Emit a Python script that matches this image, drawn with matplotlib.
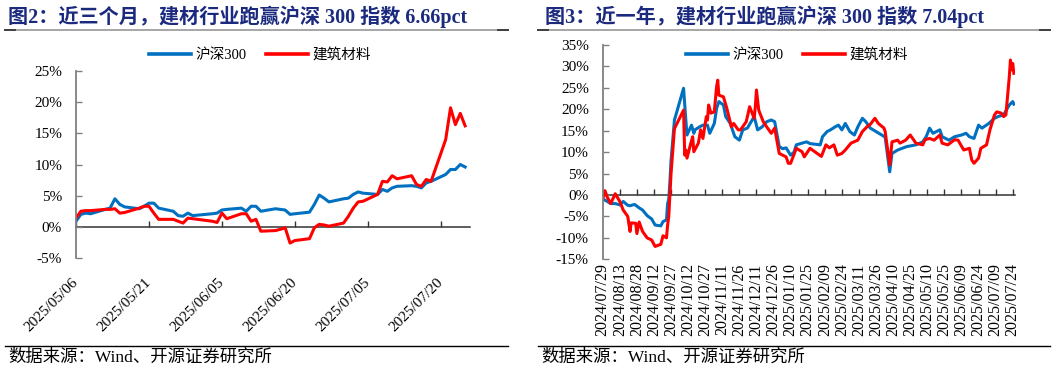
import matplotlib
matplotlib.use('Agg')
import matplotlib.pyplot as plt
import pandas as pd
from matplotlib.lines import Line2D

FONTS = ['Liberation Serif', 'Noto Sans CJK SC']
plt.rcParams['font.family'] = FONTS
plt.rcParams['axes.unicode_minus'] = False

BLUE = '#0070C0'
RED = '#FF0000'
NAVY = '#1b2a7e'
GREY = '#808080'

# ---------------- left chart: last three months ----------------
left_dates = ['2025-05-06', '2025-05-07', '2025-05-08', '2025-05-09', '2025-05-12', '2025-05-13',
              '2025-05-14', '2025-05-15', '2025-05-16', '2025-05-19', '2025-05-20', '2025-05-21',
              '2025-05-22', '2025-05-23', '2025-05-26', '2025-05-27', '2025-05-28', '2025-05-29',
              '2025-05-30', '2025-06-03', '2025-06-04', '2025-06-05', '2025-06-06', '2025-06-09',
              '2025-06-10', '2025-06-11', '2025-06-12', '2025-06-13', '2025-06-16', '2025-06-17',
              '2025-06-18', '2025-06-19', '2025-06-20', '2025-06-23', '2025-06-24', '2025-06-25',
              '2025-06-26', '2025-06-27', '2025-06-30', '2025-07-01', '2025-07-02', '2025-07-03',
              '2025-07-04', '2025-07-07', '2025-07-08', '2025-07-09', '2025-07-10', '2025-07-11',
              '2025-07-14', '2025-07-15', '2025-07-16', '2025-07-17', '2025-07-18', '2025-07-21',
              '2025-07-22', '2025-07-23', '2025-07-24', '2025-07-25']
left_hs300 = [0.9, 2.0, 2.2, 2.1, 2.8, 3.0, 4.5, 3.6, 3.2, 2.9, 3.3, 3.8, 3.8, 3.0, 2.5, 1.8,
              1.7, 2.2, 1.8, 2.1, 2.2, 2.7, 2.8, 3.0, 2.5, 3.3, 3.3, 2.5, 2.9, 2.8, 2.7, 2.0,
              2.1, 2.35, 3.6, 5.1, 4.6, 4.0, 4.5, 4.6, 5.2, 5.6, 5.4, 5.2, 6.0, 5.7, 6.25, 6.5,
              6.6, 6.5, 6.25, 7.05, 7.3, 8.4, 9.2, 9.2, 10.0, 9.6]
left_jiancai = [1.4, 2.5, 2.6, 2.6, 2.8, 2.8, 2.9, 2.2, 2.3, 3.0, 3.3, 3.3, 2.2, 1.2, 1.2, 0.9,
                0.6, 1.4, 1.3, 0.9, 0.7, 2.2, 1.3, 2.1, 2.1, 0.9, 1.2, -0.7, -0.6, -0.4, -0.15,
                -2.6, -2.2, -1.9, -0.15, 0.4, 0.3, 0.1, 0.6, 1.7, 3.0, 4.0, 4.1, 5.2, 7.3, 7.2,
                8.2, 7.7, 8.2, 6.8, 6.5, 7.6, 7.3, 14.0, 19.1, 16.4, 18.2, 16.2]

# ---------------- right chart: last year ----------------
right_hs_dates = ['2024-07-29', '2024-07-31', '2024-08-02', '2024-08-05', '2024-08-09', '2024-08-13',
                  '2024-08-16', '2024-08-20', '2024-08-22', '2024-08-26', '2024-08-28', '2024-08-30',
                  '2024-09-02', '2024-09-06', '2024-09-10', '2024-09-13', '2024-09-18', '2024-09-20',
                  '2024-09-23', '2024-09-24', '2024-09-25', '2024-09-26', '2024-09-27', '2024-09-30',
                  '2024-10-08', '2024-10-10', '2024-10-11', '2024-10-15', '2024-10-17', '2024-10-18',
                  '2024-10-22', '2024-10-25', '2024-10-29', '2024-10-31', '2024-11-04', '2024-11-06',
                  '2024-11-08', '2024-11-12', '2024-11-14', '2024-11-18', '2024-11-22', '2024-11-26',
                  '2024-11-29', '2024-12-03', '2024-12-09', '2024-12-12', '2024-12-16', '2024-12-20',
                  '2024-12-24', '2024-12-27', '2024-12-31', '2025-01-03', '2025-01-06', '2025-01-10',
                  '2025-01-13', '2025-01-15', '2025-01-20', '2025-01-24', '2025-01-27', '2025-02-05',
                  '2025-02-07', '2025-02-11', '2025-02-14', '2025-02-18', '2025-02-21', '2025-02-24',
                  '2025-02-27', '2025-03-03', '2025-03-07', '2025-03-10', '2025-03-14', '2025-03-17',
                  '2025-03-21', '2025-03-26', '2025-03-31', '2025-04-03', '2025-04-07', '2025-04-09',
                  '2025-04-14', '2025-04-22', '2025-04-30', '2025-05-06', '2025-05-09', '2025-05-12',
                  '2025-05-15', '2025-05-21', '2025-05-23', '2025-05-29', '2025-06-03', '2025-06-09',
                  '2025-06-13', '2025-06-16', '2025-06-20', '2025-06-24', '2025-06-27', '2025-07-03',
                  '2025-07-08', '2025-07-11', '2025-07-16', '2025-07-21', '2025-07-24', '2025-07-25']
right_hs300 = [-1.0, -1.2, -1.5, -2.0, -2.0, -2.3, -1.5, -2.4, -2.5, -2.2, -2.6, -3.0,
               -3.5, -4.8, -5.6, -7.0, -7.2, -6.2, -5.8, -2.0, -1.0, 3.0, 8.0, 17.5,
               24.9, 17.5, 14.0, 16.3, 14.4, 15.2, 15.9, 16.3, 16.3, 14.4, 16.7, 20.2,
               21.8, 21.0, 18.3, 16.7, 13.6, 12.8, 15.2, 15.6, 18.3, 15.2, 15.9, 17.1,
               17.5, 17.1, 11.3, 10.8, 11.0, 9.3, 10.0, 11.7, 12.1, 12.4, 12.0, 11.7,
               13.6, 14.8, 15.2, 15.9, 16.3, 15.2, 16.7, 14.8, 14.0, 15.9, 17.9, 17.1,
               15.6, 14.8, 14.0, 13.5, 5.4, 9.7, 10.5, 11.3, 11.7, 12.4, 13.6, 15.6,
               14.4, 15.2, 13.6, 12.8, 13.6, 14.0, 14.4, 13.6, 13.2, 16.3, 15.6, 16.7,
               17.9, 18.3, 18.7, 21.0, 21.8, 21.2]
right_jc_dates = ['2024-07-29', '2024-07-31', '2024-08-02', '2024-08-05', '2024-08-09', '2024-08-13',
                  '2024-08-16', '2024-08-20', '2024-08-22', '2024-08-23', '2024-08-27', '2024-08-28',
                  '2024-08-30', '2024-09-02', '2024-09-06', '2024-09-10', '2024-09-13', '2024-09-18',
                  '2024-09-20', '2024-09-23', '2024-09-24', '2024-09-25', '2024-09-26', '2024-09-27',
                  '2024-09-30', '2024-10-08', '2024-10-09', '2024-10-10', '2024-10-11', '2024-10-14',
                  '2024-10-16', '2024-10-17', '2024-10-21', '2024-10-23', '2024-10-25', '2024-10-28',
                  '2024-10-29', '2024-10-30', '2024-11-01', '2024-11-04', '2024-11-06', '2024-11-07',
                  '2024-11-08', '2024-11-12', '2024-11-15', '2024-11-19', '2024-11-21', '2024-11-25',
                  '2024-11-27', '2024-12-02', '2024-12-04', '2024-12-05', '2024-12-09', '2024-12-10',
                  '2024-12-11', '2024-12-13', '2024-12-17', '2024-12-20', '2024-12-24', '2024-12-27',
                  '2024-12-31', '2025-01-06', '2025-01-08', '2025-01-10', '2025-01-15', '2025-01-20',
                  '2025-01-22', '2025-01-27', '2025-02-06', '2025-02-10', '2025-02-13', '2025-02-17',
                  '2025-02-20', '2025-02-24', '2025-02-27', '2025-03-04', '2025-03-10', '2025-03-14',
                  '2025-03-18', '2025-03-21', '2025-03-25', '2025-03-28', '2025-04-02', '2025-04-03',
                  '2025-04-07', '2025-04-09', '2025-04-14', '2025-04-16', '2025-04-21', '2025-04-25',
                  '2025-04-30', '2025-05-06', '2025-05-08', '2025-05-12', '2025-05-16', '2025-05-21',
                  '2025-05-23', '2025-05-28', '2025-06-03', '2025-06-06', '2025-06-11', '2025-06-16',
                  '2025-06-18', '2025-06-20', '2025-06-24', '2025-06-26', '2025-07-01', '2025-07-04',
                  '2025-07-08', '2025-07-10', '2025-07-14', '2025-07-16', '2025-07-18', '2025-07-21',
                  '2025-07-22', '2025-07-23', '2025-07-24', '2025-07-25']
right_jiancai = [-1.0, 1.0, -0.5, -2.0, 0.3, -1.5, -3.5, -5.0, -8.5, -6.5, -6.6, -9.0,
                 -6.3, -8.5, -10.0, -10.5, -12.0, -11.5, -9.5, -10.0, -7.0, -5.0, 0.0, 5.0,
                 15.5, 19.8, 9.3, 10.5, 8.6, 11.7, 13.6, 10.1, 12.1, 15.2, 13.2, 18.3,
                 17.5, 21.0, 19.1, 19.4, 25.3, 26.8, 23.3, 22.9, 20.2, 15.9, 16.7, 15.2,
                 15.2, 17.1, 19.4, 20.6, 17.9, 20.6, 24.5, 19.8, 17.1, 15.9, 14.4, 15.6,
                 9.7, 8.9, 7.4, 7.4, 10.9, 10.1, 8.9, 10.9, 9.0, 11.7, 11.0, 11.7,
                 9.3, 9.7, 10.5, 12.1, 12.8, 14.8, 15.9, 16.5, 17.9, 16.7, 15.6, 14.8,
                 7.0, 12.4, 12.8, 12.1, 12.8, 14.0, 12.1, 11.7, 12.9, 13.2, 12.8, 14.0,
                 12.1, 11.7, 12.9, 12.8, 10.5, 10.9, 8.2, 7.4, 8.6, 10.9, 11.7, 15.2,
                 18.7, 19.4, 19.1, 18.3, 18.7, 27.6, 31.5, 29.2, 30.7, 28.4]

series_names = ['沪深300', '建筑材料']
left_title = '图2：近三个月，建材行业跑赢沪深 300 指数 6.66pct'
right_title = '图3：近一年，建材行业跑赢沪深 300 指数 7.04pct'
source = '数据来源：Wind、开源证券研究所'

W, H = 1057, 371
fig = plt.figure(figsize=(W / 100, H / 100), dpi=100)


def box(l, t, r, b):
    return [l / W, 1 - b / H, (r - l) / W, (b - t) / H]


def setup(ax, ylo, yhi, x0, x1, ticks, rot):
    ax.set_ylim(ylo, yhi)
    ax.set_xlim(pd.Timestamp(x0), pd.Timestamp(x1))
    ax.set_yticks(range(ylo, yhi + 1, 5))
    ax.set_yticklabels([f'{v}%' for v in range(ylo, yhi + 1, 5)], fontsize=11)
    ax.tick_params(axis='y', direction='in', length=4, width=1, color=GREY, pad=10)
    for s in ['top', 'right', 'bottom']:
        ax.spines[s].set_visible(False)
    ax.spines['left'].set_color(GREY)
    ax.spines['left'].set_linewidth(1.3)
    ax.set_xticks(ticks)
    labels = [t.strftime('%Y/%m/%d') for t in ticks]
    if rot == 45:
        ax.set_xticklabels(labels, rotation=45, ha='right', va='center',
                           rotation_mode='anchor', fontsize=11)
        ax.tick_params(axis='x', length=0, pad=16)
    else:
        ax.set_xticklabels(labels, rotation=90, fontsize=11.5)
        ax.tick_params(axis='x', length=0, pad=3)
    # zero line carrying the tick marks
    zero = ax.secondary_xaxis((0 - ylo) / (yhi - ylo))
    zero.set_xticks(ticks)
    zero.tick_params(direction='in', length=4, width=1, color='#333333',
                     labelbottom=False, labeltop=False)
    for sp in zero.spines.values():
        sp.set_color('#333333')
        sp.set_linewidth(1.1)


# left
axl = fig.add_axes(box(76, 71, 470, 258))
ld = pd.to_datetime(left_dates)
axl.plot(ld, left_hs300, color=BLUE, lw=2.2)
axl.plot(ld, left_jiancai, color=RED, lw=2.2)
setup(axl, -5, 25, '2025-05-06', '2025-07-26',
      pd.date_range('2025-05-06', periods=6, freq='15D'), 45)

# right
axr = fig.add_axes(box(602.7, 45, 1015, 259.3))
axr.plot(pd.to_datetime(right_hs_dates), right_hs300, color=BLUE, lw=2.2)
axr.plot(pd.to_datetime(right_jc_dates), right_jiancai, color=RED, lw=2.2)
setup(axr, -15, 35, '2024-07-29', '2025-07-26',
      pd.date_range('2024-07-29', periods=25, freq='15D'), 90)

handles = [Line2D([], [], color=BLUE, lw=2.6), Line2D([], [], color=RED, lw=2.6)]
for cx in (260, 797):
    fig.legend(handles, series_names, loc='center', bbox_to_anchor=(cx / W, 1 - 55 / H),
               ncol=2, frameon=False, handlelength=2.9, handletextpad=0.3,
               columnspacing=1.3, fontsize=10.5)

# titles, rules and source
for x0, x1, tx, title in [(5, 508, 8, left_title), (538, 1050, 545, right_title)]:
    fig.text(tx / W, 1 - 17 / H, title, fontsize=14.5, fontweight='bold', color=NAVY,
             ha='left', va='center')
    fig.add_artist(Line2D([x0 / W, x1 / W], [1 - 30 / H] * 2, color='#a6a6a6', lw=1.4))
    for a, b in [(x0, x0 + 10), (x1 - 10, x1)]:
        fig.add_artist(Line2D([a / W, b / W], [1 - 30 / H] * 2, color='#404040', lw=1.4))
    fig.add_artist(Line2D([x0 / W, x1 / W], [1 - 345.5 / H] * 2, color='black', lw=1.0))
    fig.text((x0 + 3) / W, 1 - 358 / H, source, fontsize=12.5, color='black',
             ha='left', va='center')

fig.savefig('out.png', dpi=100, facecolor='white')
print('saved')
